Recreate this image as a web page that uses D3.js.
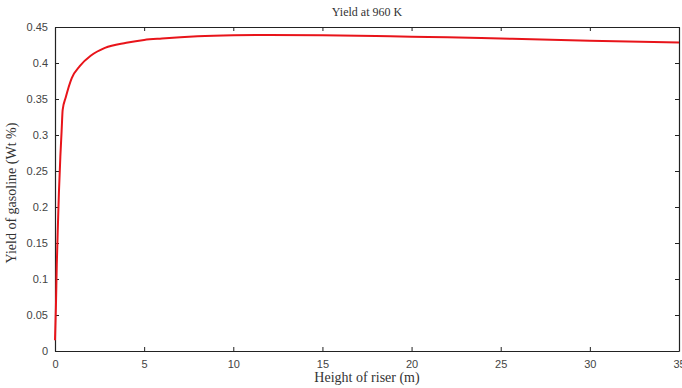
<!DOCTYPE html>
<html>
<head>
<meta charset="utf-8">
<script src="https://cdn.jsdelivr.net/npm/d3@7"></script>
<style>
  html, body { margin: 0; padding: 0; background: #fff; }
  svg { display: block; }
</style>
</head>
<body>
<svg id="chart" width="682" height="388"></svg>
<script>
// Gasoline yield along the riser height at 960 K
const heights = [0, 0.05, 0.1, 0.17, 0.22, 0.3, 0.37, 0.43, 0.6, 0.94, 1.4, 2.0, 2.8, 4.0, 5, 6, 8, 10, 12, 15, 18, 20, 22, 25, 30, 35];
const yields  = [0.015, 0.06, 0.12, 0.18, 0.22, 0.27, 0.305, 0.335, 0.352, 0.379, 0.396, 0.410, 0.421, 0.428, 0.432, 0.434, 0.437, 0.4385, 0.439, 0.4385, 0.4375, 0.4365, 0.4358, 0.434, 0.431, 0.4285];
const xTicks = [0, 5, 10, 15, 20, 25, 30, 35];
const yTicks = [0, 0.05, 0.1, 0.15, 0.2, 0.25, 0.3, 0.35, 0.4, 0.45];
const titleText = "Yield at 960 K";
const xLabel = "Height of riser (m)";
const yLabel = "Yield of gasoline (Wt %)";

const svg = d3.select("#chart");
const m = { left: 55, right: 3, top: 27, bottom: 37 };
const W = 682, H = 388;

const x = d3.scaleLinear().domain([0, 35]).range([m.left, W - m.right]);
const y = d3.scaleLinear().domain([0, 0.45]).range([H - m.bottom, m.top]);

const tickFont = "'Liberation Sans', Arial, sans-serif";
const serif = "'Liberation Serif', 'Times New Roman', serif";

// Box-style axes with inward ticks on all four sides
const xb = svg.append("g").attr("transform", `translate(0,${y(0)})`)
  .call(d3.axisBottom(x).tickValues(xTicks).tickFormat(d3.format("d")).tickSizeInner(-4).tickSizeOuter(0).tickPadding(9));
const xt = svg.append("g").attr("transform", `translate(0,${y(0.45)})`)
  .call(d3.axisTop(x).tickValues(xTicks).tickFormat("").tickSizeInner(-4).tickSizeOuter(0));
const yl = svg.append("g").attr("transform", `translate(${x(0)},0)`)
  .call(d3.axisLeft(y).tickValues(yTicks).tickFormat(d => d === 0 ? "0" : d3.format("")(+d.toFixed(2))).tickSizeInner(-4).tickSizeOuter(0).tickPadding(7));
const yr = svg.append("g").attr("transform", `translate(${x(35)},0)`)
  .call(d3.axisRight(y).tickValues(yTicks).tickFormat("").tickSizeInner(-4).tickSizeOuter(0));

[xb, xt, yl, yr].forEach(g => {
  g.select(".domain").attr("stroke", "#222").attr("stroke-width", 1.2);
  g.selectAll(".tick line").attr("stroke", "#222").attr("stroke-width", 1);
  g.selectAll("text").attr("font-family", tickFont).attr("font-size", 11).attr("fill", "#444");
});

// Yield curve
const line = d3.line().x((d, i) => x(heights[i])).y(d => y(d)).curve(d3.curveMonotoneX);
svg.append("path")
  .datum(yields)
  .attr("d", line)
  .attr("fill", "none")
  .attr("stroke", "#e8141a")
  .attr("stroke-width", 2);

// Title and axis labels
svg.append("text")
  .attr("x", (x(0) + x(35)) / 2).attr("y", 16)
  .attr("text-anchor", "middle")
  .attr("font-family", serif).attr("font-size", 12).attr("fill", "#333")
  .text(titleText);

svg.append("text")
  .attr("x", (x(0) + x(35)) / 2).attr("y", 382)
  .attr("text-anchor", "middle")
  .attr("font-family", serif).attr("font-size", 14).attr("fill", "#333")
  .text(xLabel);

svg.append("text")
  .attr("transform", `translate(16,${(y(0) + y(0.45)) / 2 + 4}) rotate(-90)`)
  .attr("text-anchor", "middle")
  .attr("font-family", serif).attr("font-size", 14).attr("fill", "#333")
  .text(yLabel);
</script>
</body>
</html>
